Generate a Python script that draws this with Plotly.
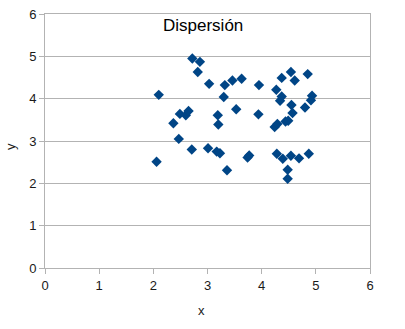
import plotly.graph_objects as go

x_vals = [2.10, 2.72, 2.86, 2.82, 3.03, 3.32, 3.30, 2.37, 2.49, 2.60, 2.65, 3.19, 3.20,
          2.47, 2.71, 3.01, 3.46, 3.63, 3.95, 4.37, 4.54, 4.61, 4.85, 4.27, 4.37, 4.34,
          3.53, 3.94, 4.55, 4.57, 4.80, 4.93, 4.91, 4.24, 4.29, 4.44, 4.49, 2.06, 3.17,
          3.23, 3.36, 3.74, 3.77, 4.28, 4.39, 4.54, 4.69, 4.87, 4.48, 4.48]
y_vals = [4.09, 4.95, 4.87, 4.63, 4.35, 4.32, 4.04, 3.42, 3.64, 3.61, 3.71, 3.61, 3.39,
          3.05, 2.80, 2.83, 4.43, 4.47, 4.32, 4.49, 4.63, 4.43, 4.58, 4.21, 4.05, 3.95,
          3.75, 3.63, 3.85, 3.66, 3.79, 4.07, 3.96, 3.33, 3.40, 3.46, 3.48, 2.51, 2.75,
          2.71, 2.31, 2.61, 2.66, 2.70, 2.58, 2.65, 2.59, 2.70, 2.32, 2.11]

title_text = "Dispersión"
x_title = "x"
y_title = "y"
tick_vals = [0, 1, 2, 3, 4, 5, 6]

fig = go.Figure()
fig.add_trace(go.Scatter(
    x=x_vals, y=y_vals, mode="markers",
    marker=dict(symbol="diamond", size=8, color="#004586",
                line=dict(width=0)),
    showlegend=False,
))

font = dict(family="Liberation Sans, Arial, sans-serif", size=13, color="#1a1a1a")
axis_common = dict(
    range=[0, 6], tickvals=tick_vals, ticks="outside", ticklen=5,
    tickcolor="#b3b3b3", linecolor="#b3b3b3", linewidth=1, mirror=True,
    zeroline=False, tickfont=font, fixedrange=True, automargin=False,
)
fig.update_xaxes(**axis_common, showgrid=False)
fig.update_yaxes(**axis_common, showgrid=True, gridcolor="#b3b3b3", gridwidth=1)

fig.add_annotation(text=title_text, xref="paper", yref="paper", x=0.486, y=0.953,
                   xanchor="center", yanchor="middle", showarrow=False,
                   font=dict(family="Liberation Sans, Arial, sans-serif", size=17, color="#000000"))
# axis titles placed like the original (slightly off-centre)
fig.add_annotation(text=x_title, xref="paper", yref="paper", x=(201 - 45) / 325, y=-(310 - 268) / 254,
                   xanchor="center", yanchor="middle", showarrow=False, font=font)
fig.add_annotation(text=y_title, xref="paper", yref="paper", x=-(45 - 10) / 325, y=(268 - 147) / 254,
                   xanchor="center", yanchor="middle", showarrow=False, textangle=-90, font=font)

fig.update_layout(
    width=405, height=329,
    margin=dict(l=45, r=35, t=14, b=61),
    paper_bgcolor="white", plot_bgcolor="white",
)
fig.write_html("out.html")
